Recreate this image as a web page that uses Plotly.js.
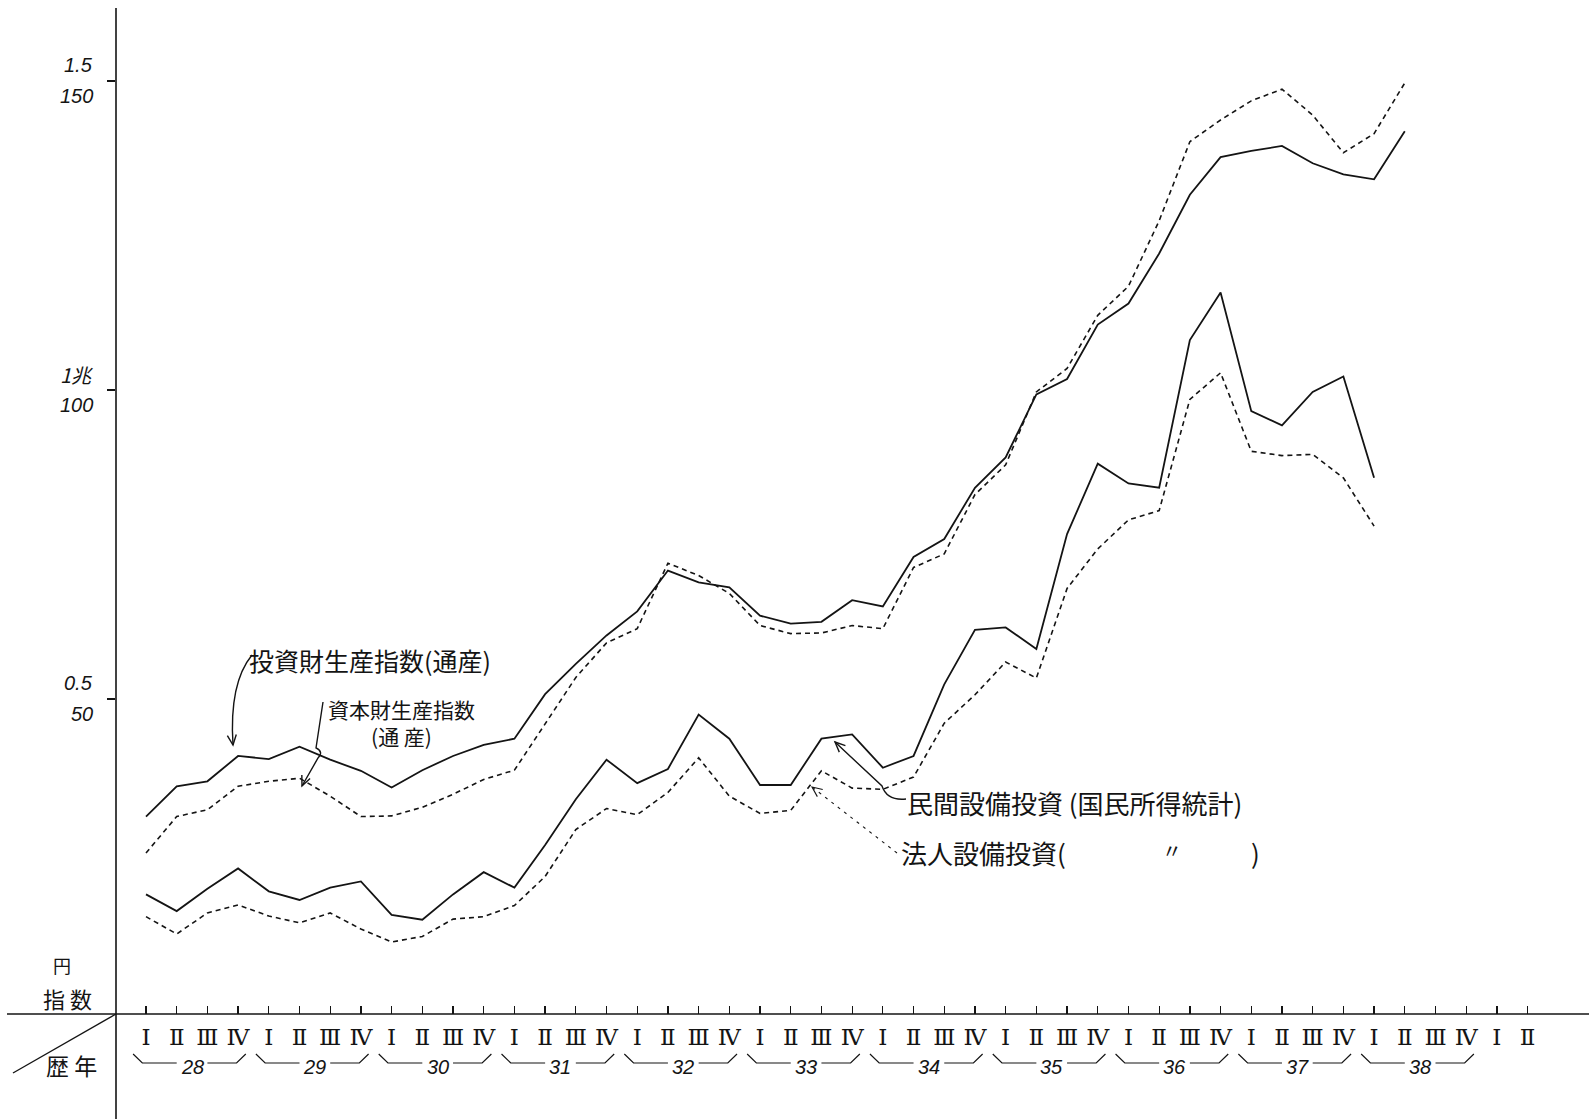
<!DOCTYPE html>
<html>
<head>
<meta charset="utf-8">
<script src="https://cdn.plot.ly/plotly-3.0.1.min.js"></script>
<style>
html,body{margin:0;padding:0;background:#fff;}
#chart{width:1589px;height:1119px;}
</style>
</head>
<body>
<div id="chart"></div>
<script>
// ---------------- data ----------------
const quarterLabels = ["Ⅰ", "Ⅱ", "Ⅲ", "Ⅳ"];
const yearLabels = ["28", "29", "30", "31", "32", "33", "34", "35", "36", "37", "38"];
const extraQuarterLabels = ["Ⅰ", "Ⅱ"]; // 39
const yTickValues = [50, 100, 150];
const yTickUpperLabels = ["0.5", "1兆", "1.5"];
const yTickLowerLabels = ["50", "100", "150"];

// 投資財生産指数(通産)
const investmentGoodsIndex = [31.0, 35.9, 36.7, 40.8, 40.3, 42.3, 40.2, 38.4, 35.7, 38.5, 40.8, 42.6,
  43.6, 50.8, 55.7, 60.3, 64.2, 70.8, 68.9, 68.1, 63.5, 62.2, 62.5, 66.0, 65.0, 73.0, 75.9, 84.2,
  89.1, 99.3, 101.8, 110.6, 114.0, 122.1, 131.6, 137.7, 138.7, 139.5, 136.7, 134.9, 134.1, 141.9];
// 資本財生産指数(通産)
const capitalGoodsIndex = [25.1, 31.0, 32.1, 35.9, 36.7, 37.2, 34.3, 31.0, 31.1, 32.5, 34.6, 37.0,
  38.5, 45.9, 53.5, 59.1, 61.4, 72.0, 70.0, 67.1, 61.9, 60.6, 60.7, 61.9, 61.4, 71.3, 73.5, 83.1,
  87.9, 99.7, 103.5, 112.1, 116.8, 127.4, 140.2, 143.7, 146.8, 148.7, 144.5, 138.4, 141.5, 149.7];
// 民間設備投資(国民所得統計)
const privateEquipmentInvestment = [18.4, 15.7, 19.3, 22.6, 18.9, 17.5, 19.5, 20.5, 15.1, 14.3, 18.4, 22.0,
  19.5, 26.4, 33.8, 40.2, 36.4, 38.7, 47.5, 43.6, 36.1, 36.1, 43.6, 44.3, 38.9, 40.8, 52.4, 61.2,
  61.6, 58.1, 76.7, 88.1, 84.9, 84.2, 108.1, 115.8, 96.6, 94.3, 99.7, 102.2, 85.8];
// 法人設備投資(国民所得統計)
const corporateEquipmentInvestment = [14.8, 12.0, 15.4, 16.7, 14.9, 13.8, 15.4, 12.8, 10.7, 11.6, 14.4, 14.8,
  16.6, 21.3, 28.9, 32.3, 31.3, 34.9, 40.5, 34.3, 31.5, 32.0, 38.4, 35.6, 35.4, 37.4, 46.1, 50.7,
  56.0, 53.4, 67.9, 74.3, 79.0, 80.5, 98.5, 102.8, 90.1, 89.4, 89.6, 85.8, 78.0];

// ---------------- layout helpers ----------------
const W = 1589, H = 1119, ML = 116, MB = 105;
const PH = H - MB, PW = W - ML;
const px = x => (x - ML) / PW;          // page pixel -> paper x
const py = y => (PH - y) / PH;          // page pixel -> paper y
const INK = "#141414";
const CJK = "Noto Sans CJK JP, Noto Sans CJK SC, sans-serif";
const HAND = "Liberation Sans, DejaVu Sans, sans-serif";
const ROMAN = "DejaVu Serif, Noto Sans CJK JP, serif";

const tickText = yearLabels.flatMap(() => quarterLabels).concat(extraQuarterLabels);
const tickVals = tickText.map((_, i) => i);
const idx = arr => arr.map((_, i) => i);

function line(y, dash, width) {
  return {
    type: "scatter", mode: "lines", x: idx(y), y: y,
    line: {color: INK, width: width, dash: dash},
    hoverinfo: "skip", showlegend: false
  };
}
const traces = [
  line(investmentGoodsIndex, "solid", 1.8),
  line(capitalGoodsIndex, "5px,4px", 1.6),
  line(privateEquipmentInvestment, "solid", 1.8),
  line(corporateEquipmentInvestment, "5px,4px", 1.6)
];

function P(pts) {
  return pts.map(p => {
    const c = p[0], r = [];
    for (let i = 1; i < p.length; i += 2) r.push(px(p[i]).toFixed(5) + "," + py(p[i + 1]).toFixed(5));
    return c + " " + r.join(" ");
  }).join(" ");
}
function head(tip, from, len, spread) {
  len = len || 11; spread = spread || 0.42;
  const dx = tip[0] - from[0], dy = tip[1] - from[1], d = Math.hypot(dx, dy);
  const bx = -dx / d, by = -dy / d;
  const rot = t => [tip[0] + len * (bx * Math.cos(t) - by * Math.sin(t)), tip[1] + len * (bx * Math.sin(t) + by * Math.cos(t))];
  const a = rot(spread), b = rot(-spread);
  return P([["M", a[0], a[1]], ["L", tip[0], tip[1]], ["L", b[0], b[1]]]);
}
const shp = (path, w, dash) => ({type: "path", xref: "paper", yref: "paper", path: path,
  line: {color: INK, width: w || 1.4, dash: dash || "solid"}});

const shapes = [
  {type: "line", xref: "paper", yref: "paper", x0: 0, x1: 0, y0: py(H), y1: py(8), line: {color: INK, width: 1.6}},
  {type: "line", xref: "paper", yref: "paper", x0: px(7), x1: 1, y0: 0, y1: 0, line: {color: INK, width: 1.4}},
  {type: "line", xref: "paper", yref: "paper", x0: px(13), x1: 0, y0: py(1073), y1: 0, line: {color: INK, width: 1.4}},
  shp(P([["M", 252, 655], ["Q", 229, 683, 233, 745]])),
  shp(head([233, 745], [231, 728])),
  shp(P([["M", 323, 702], ["L", 316, 748], ["Q", 324, 752, 318, 758], ["L", 302, 786]])),
  shp(head([302, 786], [308, 772])),
  shp(P([["M", 906, 799], ["Q", 887, 801, 882, 786], ["L", 835, 742]])),
  shp(head([835, 742], [849, 755])),
  shp(P([["M", 897, 853], ["L", 812, 787]]), 1.1, "3px,5px"),
  shp(head([812, 787], [824, 796]), 1.1)
];
yearLabels.forEach((_, k) => {
  const x0 = 4 * k;
  const yt = py(1054), yb = py(1063);
  shapes.push({type: "path", xref: "x", yref: "paper",
    path: `M ${x0 - 0.42},${yt} L ${x0 - 0.12},${yb} L ${x0 + 1.0},${yb} M ${x0 + 2.0},${yb} L ${x0 + 2.95},${yb} L ${x0 + 3.25},${yt}`,
    line: {color: INK, width: 1.2}});
});

const annotations = [];
yTickValues.forEach((v, i) => {
  annotations.push({xref: "paper", yref: "y", x: 0, y: v, xanchor: "right", yanchor: "middle",
    xshift: -21, yshift: 16, showarrow: false, text: yTickUpperLabels[i],
    font: {family: i === 1 ? CJK : HAND, size: 20, color: INK, style: "italic"}});
  annotations.push({xref: "paper", yref: "y", x: 0, y: v, xanchor: "right", yanchor: "middle",
    xshift: -21, yshift: -15, showarrow: false, text: yTickLowerLabels[i],
    font: {family: HAND, size: 20, color: INK, style: "italic"}});
});
yearLabels.forEach((t, k) => {
  annotations.push({xref: "x", yref: "paper", x: 4 * k + 1.5, y: py(1067), xanchor: "center", yanchor: "middle",
    showarrow: false, text: t, font: {family: HAND, size: 20, color: INK, style: "italic"}});
});
const txt = (t, x, y, size, anchor) => ({xref: "paper", yref: "paper", x: px(x), y: py(y),
  xanchor: anchor || "left", yanchor: "middle", showarrow: false, text: t, align: "center",
  font: {family: CJK, size: size, color: INK}});
annotations.push(
  txt("投資財生産指数(通産)", 247, 660, 25),
  txt("資本財生産指数<br>(通 産)", 401, 722, 21, "center"),
  txt("民間設備投資 (国民所得統計)", 905, 803, 26),
  txt("法人設備投資(", 899, 852, 26),
  txt("〃", 1172, 850, 20, "center"),
  txt(")", 1255, 852, 26, "center"),
  txt("円", 62, 965, 18, "center"),
  txt("指 数", 67, 998, 22, "center"),
  txt("歴 年", 71, 1065, 23, "center")
);

const layout = {
  width: W, height: H,
  margin: {l: ML, r: 0, t: 0, b: MB, pad: 0},
  paper_bgcolor: "#fff", plot_bgcolor: "#fff",
  showlegend: false,
  xaxis: {range: [-0.977, 47.0], showgrid: false, zeroline: false, showline: false,
    tickmode: "array", tickvals: tickVals, ticktext: tickText,
    ticks: "inside", ticklen: 8, tickwidth: 1.3, tickcolor: INK,
    ticklabelstandoff: 7,
    tickfont: {family: ROMAN, size: 23, color: INK}},
  yaxis: {range: [-0.95, 163.12], showgrid: false, zeroline: false, showline: false,
    tickmode: "array", tickvals: yTickValues, ticks: "outside", ticklen: 8, tickwidth: 1.4,
    tickcolor: INK, showticklabels: false},
  shapes: shapes,
  annotations: annotations
};

Plotly.newPlot("chart", traces, layout, {staticPlot: true, displayModeBar: false});
</script>
</body>
</html>
